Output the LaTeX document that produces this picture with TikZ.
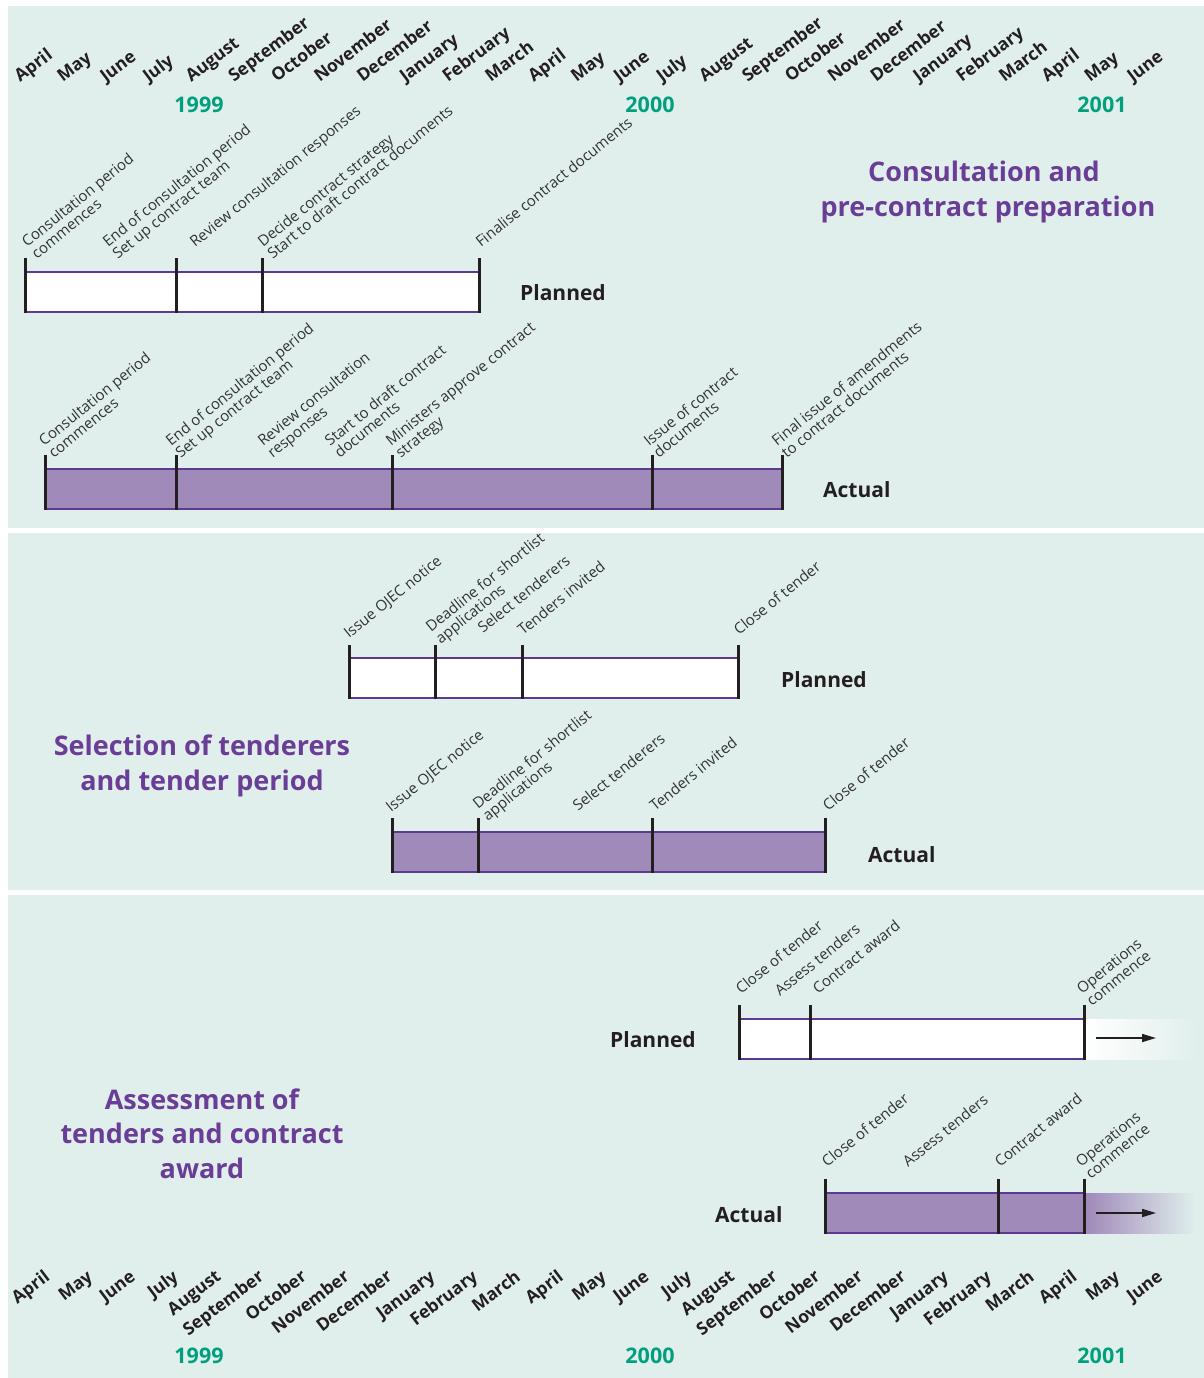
\documentclass[tikz,border=0pt]{standalone}
\usepackage{fontspec}
\setmainfont{Open Sans}
\usetikzlibrary{arrows.meta}
\definecolor{bgteal}{HTML}{E1EFEC}
\definecolor{barline}{HTML}{5B3A90}
\definecolor{lav}{HTML}{A08ABA}
\definecolor{titlepurple}{HTML}{6A3D96}
\definecolor{yeargreen}{HTML}{00A07C}
\definecolor{ink}{HTML}{231F20}
\definecolor{evgray}{HTML}{333333}
\tikzset{
  month/.style={font=\bfseries\fontsize{17.5}{18}\selectfont, text=ink, rotate=37, inner sep=0pt},
  year/.style={font=\bfseries\fontsize{21.5}{22}\selectfont, text=yeargreen, inner sep=0pt, anchor=base},
  evlab/.style={font=\fontsize{15}{16}\selectfont, text=evgray, rotate=39, anchor=base west, inner sep=0pt},
  rowlab/.style={font=\bfseries\fontsize{21}{22}\selectfont, text=ink, anchor=base west, inner sep=0pt},
  title/.style={font=\bfseries\fontsize{27}{30}\selectfont, text=titlepurple, anchor=base, inner sep=0pt},
  tickline/.style={draw=ink, line width=3pt},
  edgeline/.style={draw=barline, line width=2pt},
  flowarrow/.style={draw=ink, line width=1.6pt, -{Triangle[length=14pt,width=8pt]}},
}
\newcommand\evone[4]{\node[evlab] (#1) at (#2,#3) {#4};}
\newcommand\evtwo[5]{\node[evlab] (#1) at (#2,#3) {#4};
  \node[evlab] (#1b) at ({#2+9.8},{#3+11.7}) {#5};}
\newcommand\tlbar[6]{%
  \fill[#1] (#2,#4) rectangle (#3,{#4+40});
  \draw[edgeline] (#2,#4) -- (#3,#4);
  \draw[edgeline] (#2,{#4+40}) -- (#3,{#4+40});
  \foreach \tx in {#5} \draw[tickline] (\tx,#6) -- (\tx,{#4+41});
}
\newcommand\monthlist{April,May,June,July,August,September,October,November,December,January,February,March,April,May,June,July,August,September,October,November,December,January,February,March,April,May,June}
\begin{document}
\begin{tikzpicture}[x=1pt,y=-1pt]
\useasboundingbox (0,0) rectangle (1204,1378);
\fill[white] (0,0) rectangle (1204,1378);
\fill[bgteal] (8,6) rectangle (1204,528);
\fill[bgteal] (8,533) rectangle (1204,890);
\fill[bgteal] (8,895) rectangle (1204,1378);

% month scales
\foreach \m [count=\i from 0] in \monthlist {
  \node[month, anchor=base west] (mt\i) at ({20+42.8*\i},83) {\m};
  \node[month, anchor=base east] (mb\i) at ({51+42.8*\i},1279) {\m};
}
\node[year] (y1t) at (199,113) {1999};
\node[year] (y2t) at (650,113) {2000};
\node[year] (y3t) at (1102,113) {2001};
\node[year] (y1b) at (199,1363) {1999};
\node[year] (y2b) at (650,1363) {2000};
\node[year] (y3b) at (1102,1363) {2001};

% titles
\node[title] (t1a) at (984,181) {Consultation and};
\node[title] (t1b) at (988,216) {pre-contract preparation};
\node[title] (t2a) at (202,755) {Selection of tenderers};
\node[title] (t2b) at (202,790) {and tender period};
\node[title] (t3a) at (202,1109) {Assessment of};
\node[title] (t3b) at (202,1143) {tenders and contract};
\node[title] (t3c) at (202,1178) {award};

% ---------- panel 1 ----------
\tlbar{white}{25}{479}{272}{25,176,262,479}{258}
\node[rowlab] (pl1) at (520,300) {Planned};
\evtwo{a1}{27}{248}{Consultation period}{commences}
\evtwo{a2}{108}{248}{End of consultation period}{Set up contract team}
\evone{a3}{195}{248}{Review consultation responses}
\evtwo{a4}{263}{248}{Decide contract strategy}{Start to draft contract documents}
\evone{a5}{481}{248}{Finalise contract documents}

\tlbar{lav}{45}{782}{469}{45,176,392,652,782}{455}
\node[rowlab] (ac1) at (823,497) {Actual};
\evtwo{b1}{44}{447}{Consultation period}{commences}
\evtwo{b2}{171}{447}{End of consultation period}{Set up contract team}
\evtwo{b3}{263}{447}{Review consultation}{responses}
\evtwo{b4}{330}{447}{Start to draft contract}{documents}
\evtwo{b5}{391}{447}{Ministers approve contract}{strategy}
\evtwo{b6}{649}{447}{Issue of contract}{documents}
\evtwo{b7}{777}{447}{Final issue of amendments}{to contract documents}

% ---------- panel 2 ----------
\tlbar{white}{349}{738}{658}{349,435,522,738}{645}
\node[rowlab] (pl2) at (781,687) {Planned};
\evone{c1}{349}{639}{Issue OJEC notice}
\evtwo{c2}{431}{633}{Deadline for shortlist}{applications}
\evone{c3}{483}{634}{Select tenderers}
\evone{c4}{523}{636}{Tenders invited}
\evone{c5}{739}{636}{Close of tender}

\tlbar{lav}{392}{825}{832}{392,478,652,825}{818}
\node[rowlab] (ac2) at (868,862) {Actual};
\evone{d1}{391}{813}{Issue OJEC notice}
\evtwo{d2}{478}{810}{Deadline for shortlist}{applications}
\evone{d3}{578}{812}{Select tenderers}
\evone{d4}{655}{812}{Tenders invited}
\evone{d5}{828}{812}{Close of tender}

% ---------- panel 3 ----------
\shade[left color=white, right color=bgteal] (1086,1019) rectangle (1196,1059);
\tlbar{white}{739}{1084}{1019}{739,810,1084}{1005}
\node[rowlab] (pl3) at (610,1047) {Planned};
\evone{e1}{741}{995}{Close of tender}
\evone{e2}{780}{997}{Assess tenders}
\evone{e3}{818}{995}{Contract award}
\evtwo{e4}{1082}{995}{Operations}{commence}
\coordinate (pa1) at (1096,1038);
\coordinate (pa2) at (1156,1038);
\draw[flowarrow] (pa1) -- (pa2);

\shade[left color=lav, right color=bgteal] (1086,1193) rectangle (1196,1233);
\tlbar{lav}{825}{1084}{1193}{825,998,1084}{1179}
\node[rowlab] (ac3) at (715,1222) {Actual};
\evone{f1}{827}{1168}{Close of tender}
\evone{f2}{908}{1168}{Assess tenders}
\evone{f3}{1000}{1168}{Contract award}
\evtwo{f4}{1081}{1168}{Operations}{commence}
\coordinate (pb1) at (1096,1213);
\coordinate (pb2) at (1156,1213);
\draw[flowarrow] (pb1) -- (pb2);
\end{tikzpicture}
\end{document}
